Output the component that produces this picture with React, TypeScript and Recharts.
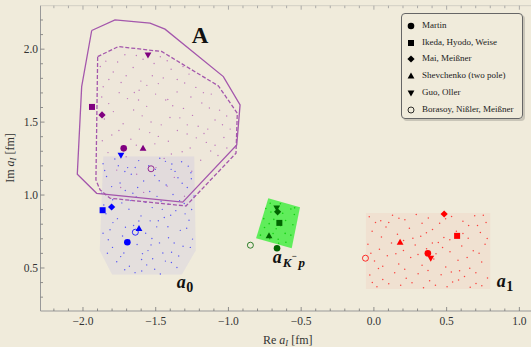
import React from "react";
import { ScatterChart, Scatter, XAxis, YAxis } from "recharts";

type Pt = [number, number];

const xTicks = [
  -2.2, -2.1, -2.0, -1.9, -1.8, -1.7, -1.6, -1.5, -1.4, -1.3, -1.2, -1.1, -1.0, -0.9, -0.8, -0.7,
  -0.6, -0.5, -0.4, -0.3, -0.2, -0.1, 0.0, 0.1, 0.2, 0.3, 0.4, 0.5, 0.6, 0.7, 0.8, 0.9, 1.0,
];
const xTickLabels = [-2.0, -1.5, -1.0, -0.5, 0.0, 0.5, 1.0];
const yTicks = [
  0.3, 0.4, 0.5, 0.6, 0.7, 0.8, 0.9, 1.0, 1.1, 1.2, 1.3, 1.4, 1.5, 1.6, 1.7, 1.8, 1.9, 2.0, 2.1, 2.2,
];
const yTickLabels = [0.5, 1.0, 1.5, 2.0];

// marker values, in order: A, a0, aK-p, a1
const authorNames = [
  "Martin",
  "Ikeda, Hyodo, Weise",
  "Mai, Meißner",
  "Shevchenko (two pole)",
  "Guo, Oller",
  "Borasoy, Nißler, Meißner",
];
const martin: Pt[] = [[-1.72, 1.32], [-1.695, 0.676], [-0.666, 0.635], [0.371, 0.601]];
const ikeda: Pt[] = [[-1.938, 1.604], [-1.865, 0.896], [-0.65, 0.809], [0.572, 0.72]];
const mai: Pt[] = [[-1.869, 1.549], [-1.803, 0.918], [-0.662, 0.885], [0.483, 0.87]];
const shevchenko: Pt[] = [[-1.587, 1.32], [-1.615, 0.77], [-0.721, 0.72], [0.18, 0.676]];
const guo: Pt[] = [[-1.553, 1.96], [-1.739, 1.273], [-0.668, 0.912], [0.391, 0.567]];
const borasoy: Pt[] = [[-1.532, 1.18], [-1.64, 0.745], [-0.849, 0.656], [-0.058, 0.567]];
const groups = ["A", "a0", "aKp", "a1"];

const solidHull: Pt[] = [
  [-1.94, 2.128], [-1.78, 2.201], [-1.539, 2.178], [-1.436, 2.137], [-1.035, 1.812], [-0.92, 1.618],
  [-0.943, 1.344], [-1.314, 0.951], [-1.906, 1.012], [-2.039, 1.143], [-2.009, 1.743], [-1.94, 2.128],
];
const dashedHull: Pt[] = [
  [-1.899, 1.949], [-1.757, 2.018], [-1.459, 1.984], [-1.069, 1.748], [-0.939, 1.561], [-0.948, 1.287],
  [-1.292, 0.925], [-1.814, 0.978], [-1.883, 1.036], [-1.911, 1.104], [-1.899, 1.949],
];

const a0Region: Pt[] = [
  [-1.86, 1.265], [-1.235, 1.265], [-1.225, 0.62], [-1.32, 0.455], [-1.8, 0.455], [-1.885, 0.62], [-1.86, 1.265],
];
const a1Region: Pt[] = [[-0.055, 0.876], [0.8, 0.876], [0.8, 0.356], [-0.055, 0.356], [-0.055, 0.876]];
const aKpRegion: Pt[] = [[-0.726, 0.978], [-0.508, 0.916], [-0.565, 0.635], [-0.81, 0.704], [-0.726, 0.978]];

const purpleCloud: Pt[] = [
  [-1.843, 1.918], [-1.712, 1.962], [-1.587, 1.931], [-1.468, 1.948], [-1.792, 1.843], [-1.655, 1.874],
  [-1.523, 1.818], [-1.394, 1.862], [-1.271, 1.829], [-1.602, 1.781], [-1.861, 1.742], [-1.738, 1.771],
  [-1.614, 1.718], [-1.482, 1.764], [-1.353, 1.707], [-1.224, 1.738], [-1.118, 1.692], [-1.417, 1.655],
  [-1.823, 1.627], [-1.694, 1.661], [-1.562, 1.608], [-1.431, 1.652], [-1.309, 1.594], [-1.183, 1.631],
  [-1.061, 1.582], [-1.247, 1.546], [-1.853, 1.521], [-1.724, 1.489], [-1.593, 1.543], [-1.462, 1.481],
  [-1.334, 1.529], [-1.208, 1.472], [-1.092, 1.514], [-0.988, 1.452], [-1.802, 1.412], [-1.671, 1.383],
  [-1.541, 1.428], [-1.413, 1.369], [-1.284, 1.418], [-1.152, 1.361], [-1.031, 1.394], [-1.506, 1.351],
  [-1.828, 1.291], [-1.703, 1.262], [-1.574, 1.308], [-1.442, 1.251], [-1.318, 1.297], [-1.191, 1.238],
  [-1.072, 1.271], [-1.768, 1.171], [-1.631, 1.142], [-1.498, 1.188], [-1.372, 1.121], [-1.252, 1.163],
  [-1.124, 1.104], [-1.741, 1.052], [-1.583, 1.018], [-1.421, 1.061], [-1.302, 0.992], [-1.647, 1.703],
  [-1.352, 1.792], [-1.168, 1.422], [-1.881, 1.881], [-1.762, 1.912], [-1.633, 1.957], [-1.511, 1.902],
  [-1.421, 1.921], [-1.312, 1.881], [-1.822, 1.792], [-1.703, 1.818], [-1.561, 1.752], [-1.448, 1.803],
  [-1.301, 1.768], [-1.172, 1.702], [-1.871, 1.672], [-1.751, 1.702], [-1.618, 1.652], [-1.501, 1.692],
  [-1.383, 1.612], [-1.258, 1.672], [-1.131, 1.597], [-1.012, 1.542], [-1.791, 1.572], [-1.652, 1.583],
  [-1.532, 1.501], [-1.402, 1.532], [-1.283, 1.481], [-1.142, 1.452], [-1.041, 1.482], [-1.753, 1.442],
  [-1.612, 1.452], [-1.482, 1.402], [-1.351, 1.442], [-1.221, 1.392], [-1.092, 1.341], [-1.867, 1.372],
  [-1.633, 1.342], [-1.392, 1.281], [-1.263, 1.322], [-1.122, 1.302], [-1.011, 1.322],
];
const blueCloud: Pt[] = [
  [-1.862, 1.214], [-1.781, 1.247], [-1.693, 1.188], [-1.617, 1.236], [-1.548, 1.201], [-1.472, 1.252],
  [-1.394, 1.176], [-1.322, 1.228], [-1.258, 1.153], [-1.838, 1.127], [-1.745, 1.083], [-1.668, 1.142],
  [-1.583, 1.096], [-1.507, 1.134], [-1.428, 1.069], [-1.347, 1.118], [-1.283, 1.052], [-1.712, 1.161],
  [-1.871, 1.013], [-1.796, 0.968], [-1.709, 1.031], [-1.634, 0.987], [-1.541, 1.024], [-1.463, 0.958],
  [-1.381, 1.004], [-1.304, 0.942], [-1.236, 0.993], [-1.842, 0.872], [-1.763, 0.838], [-1.684, 0.903],
  [-1.601, 0.857], [-1.524, 0.914], [-1.441, 0.846], [-1.362, 0.893], [-1.271, 0.827], [-1.572, 0.951],
  [-1.814, 0.762], [-1.728, 0.719], [-1.652, 0.791], [-1.569, 0.738], [-1.493, 0.782], [-1.412, 0.707],
  [-1.331, 0.758], [-1.247, 0.698], [-1.455, 0.902], [-1.797, 0.641], [-1.719, 0.603], [-1.628, 0.661],
  [-1.553, 0.619], [-1.474, 0.672], [-1.391, 0.608], [-1.312, 0.649], [-1.521, 0.563], [-1.768, 0.543],
  [-1.681, 0.512], [-1.597, 0.558], [-1.507, 0.491], [-1.433, 0.547], [-1.354, 0.503], [-1.642, 0.468],
  [-1.468, 0.459], [-1.733, 0.946], [-1.389, 1.213], [-1.616, 0.822], [-1.298, 0.871], [-1.826, 0.693],
  [-1.416, 0.783], [-1.851, 1.168], [-1.757, 1.201], [-1.641, 1.189], [-1.502, 1.176], [-1.433, 1.231],
  [-1.276, 1.198], [-1.803, 1.058], [-1.624, 1.052], [-1.476, 1.098], [-1.318, 1.081], [-1.255, 1.112],
  [-1.857, 0.932], [-1.675, 0.962], [-1.491, 0.991], [-1.412, 0.938], [-1.336, 0.962], [-1.253, 0.901],
  [-1.794, 0.811], [-1.708, 0.779], [-1.538, 0.823], [-1.397, 0.861], [-1.287, 0.772], [-1.862, 0.738],
  [-1.683, 0.692], [-1.526, 0.702], [-1.373, 0.671], [-1.262, 0.641], [-1.741, 0.578], [-1.591, 0.598],
  [-1.451, 0.603], [-1.342, 0.582], [-1.713, 0.488], [-1.562, 0.521], [-1.392, 0.538], [-1.596, 0.479],
  [-1.832, 0.601], [-1.482, 0.824], [-1.657, 1.012], [-1.367, 1.162], [-1.532, 0.658],
];
const greenCloud: Pt[] = [
  [-0.713, 0.944], [-0.643, 0.94], [-0.571, 0.904], [-0.547, 0.867], [-0.708, 0.883], [-0.627, 0.875],
  [-0.757, 0.838], [-0.688, 0.833], [-0.607, 0.825], [-0.557, 0.796], [-0.752, 0.777], [-0.672, 0.769],
  [-0.61, 0.737], [-0.78, 0.725], [-0.716, 0.701], [-0.658, 0.697], [-0.605, 0.676], [-0.673, 0.918],
  [-0.641, 0.79], [-0.72, 0.804], [-0.545, 0.912], [-0.693, 0.736], [-0.743, 0.908], [-0.571, 0.725],
  [-0.655, 0.669],
];
const redCloud: Pt[] = [
  [-0.032, 0.851], [0.047, 0.823], [0.128, 0.862], [0.213, 0.831], [0.291, 0.867], [0.374, 0.842],
  [0.452, 0.806], [0.534, 0.853], [0.612, 0.821], [0.693, 0.858], [0.771, 0.812], [-0.012, 0.752],
  [0.083, 0.781], [0.162, 0.731], [0.244, 0.772], [0.322, 0.718], [0.403, 0.763], [0.481, 0.709],
  [0.567, 0.752], [0.648, 0.703], [0.732, 0.744], [-0.041, 0.662], [0.038, 0.628], [0.121, 0.671],
  [0.203, 0.619], [0.284, 0.658], [0.362, 0.632], [0.443, 0.674], [0.523, 0.612], [0.604, 0.651],
  [0.683, 0.618], [0.764, 0.663], [0.004, 0.548], [0.092, 0.583], [0.171, 0.527], [0.253, 0.571],
  [0.331, 0.518], [0.412, 0.562], [0.494, 0.507], [0.578, 0.553], [0.659, 0.498], [0.741, 0.541],
  [-0.028, 0.452], [0.061, 0.421], [0.143, 0.468], [0.222, 0.429], [0.304, 0.461], [0.383, 0.412],
  [0.462, 0.453], [0.541, 0.404], [0.623, 0.442], [0.702, 0.393], [0.781, 0.432], [0.021, 0.372],
  [0.184, 0.381], [0.341, 0.364], [0.503, 0.372], [0.662, 0.368], [0.102, 0.812], [0.268, 0.703],
  [0.427, 0.598], [0.589, 0.481], [0.712, 0.792], [0.031, 0.497], [0.011, 0.812], [0.172, 0.841],
  [0.331, 0.806], [0.493, 0.838], [0.651, 0.791], [0.752, 0.861], [0.052, 0.712], [0.204, 0.688],
  [0.361, 0.741], [0.522, 0.693], [0.612, 0.736], [0.779, 0.702], [-0.021, 0.601], [0.151, 0.598],
  [0.303, 0.592], [0.472, 0.641], [0.641, 0.572], [0.723, 0.601], [0.061, 0.512], [0.212, 0.492],
  [0.372, 0.483], [0.532, 0.472], [0.701, 0.468], [-0.011, 0.401], [0.102, 0.392], [0.262, 0.398],
  [0.423, 0.381], [0.582, 0.418], [0.742, 0.378], [0.402, 0.672],
];

const textLabels = [
  { id: "A", x: -1.195, y: 2.043 },
  { id: "a0", x: -1.356, y: 0.361 },
  { id: "aKp", x: -0.695, y: 0.536 },
  { id: "a1", x: 0.845, y: 0.368 },
];

const SERIF = '"Liberation Serif", "Times New Roman", "DejaVu Serif", serif';
const BG = "#f0ebdb";
const groupColor: Record<string, string> = {
  A: "#800080",
  a0: "#0000ff",
  aKp: "#006400",
  a1: "#ff0000",
};
const markerKinds = ["circle", "square", "diamond", "up", "down", "open"];
const authorData = [martin, ikeda, mai, shevchenko, guo, borasoy];

const toXY = (pts: Pt[]) => pts.map(([x, y]) => ({ x, y }));
const near = (list: number[], v: number) => list.some((t) => Math.abs(t - v) < 1e-6);
const fmt = (v: number) => v.toFixed(1).replace("-", "\u2212");

function Marker({ cx, cy, kind, color }: { cx: number; cy: number; kind: string; color: string }) {
  switch (kind) {
    case "circle":
      return <circle cx={cx} cy={cy} r={3.3} fill={color} />;
    case "square":
      return <rect x={cx - 3} y={cy - 3} width={6} height={6} fill={color} />;
    case "diamond":
      return (
        <polygon
          points={`${cx},${cy - 3.6} ${cx + 3.6},${cy} ${cx},${cy + 3.6} ${cx - 3.6},${cy}`}
          fill={color}
        />
      );
    case "up":
      return (
        <polygon points={`${cx},${cy - 3.6} ${cx + 3.4},${cy + 2.4} ${cx - 3.4},${cy + 2.4}`} fill={color} />
      );
    case "down":
      return (
        <polygon points={`${cx},${cy + 3.6} ${cx + 3.4},${cy - 2.4} ${cx - 3.4},${cy - 2.4}`} fill={color} />
      );
    default:
      return <circle cx={cx} cy={cy} r={3} fill="none" stroke={color} strokeWidth={0.8} />;
  }
}

const noShape = () => <g />;
const dotShape = (fill: string, r: number, op: number) => (p: any) =>
  <circle cx={p.cx} cy={p.cy} r={r} fill={fill} fillOpacity={op} />;

function BottomTick(props: any) {
  const { x, y, payload } = props;
  const major = near(xTickLabels, payload.value);
  return (
    <g>
      <line x1={x} x2={x} y1={y} y2={y - (major ? 4 : 2.5)} stroke="#777" strokeWidth={0.8} />
      {major && (
        <text x={x} y={y + 14} textAnchor="middle" fontSize={11.5} fontFamily={SERIF} fill="#333">
          {fmt(payload.value)}
        </text>
      )}
    </g>
  );
}

function TopTick(props: any) {
  const { x, y, payload } = props;
  const major = near(xTickLabels, payload.value);
  return <line x1={x} x2={x} y1={y} y2={y + (major ? 4 : 2.5)} stroke="#999" strokeWidth={0.8} />;
}

function LeftTick(props: any) {
  const { x, y, payload } = props;
  const major = near(yTickLabels, payload.value);
  return (
    <g>
      <line x1={x} x2={x + (major ? 4 : 2.5)} y1={y} y2={y} stroke="#777" strokeWidth={0.8} />
      {major && (
        <text x={x - 2.5} y={y + 4} textAnchor="end" fontSize={11.5} fontFamily={SERIF} fill="#333">
          {fmt(payload.value)}
        </text>
      )}
    </g>
  );
}

function LabelShape(p: any) {
  const { cx, cy, payload } = p;
  const common = { fontFamily: SERIF, fontWeight: "bold" as const, fill: "#111" };
  if (payload.id === "A") {
    return (
      <text x={cx} y={cy} textAnchor="middle" fontSize={23} {...common}>
        A
      </text>
    );
  }
  if (payload.id === "aKp") {
    return (
      <text x={cx} y={cy} fontSize={18} {...common}>
        <tspan fontStyle="italic">a</tspan>
        <tspan fontSize={13} dy={4.3} dx={1} fontStyle="italic">K</tspan>
        <tspan fontSize={9} dy={-8}>{"\u2212"}</tspan>
        <tspan fontSize={13} dy={8} dx={2} fontStyle="italic">p</tspan>
      </text>
    );
  }
  return (
    <text x={cx} y={cy} fontSize={18} {...common}>
      <tspan fontStyle="italic">a</tspan>
      <tspan fontSize={14} dy={3.4} dx={0.5}>{payload.id === "a0" ? "0" : "1"}</tspan>
    </text>
  );
}

function XTitle(props: any) {
  const { viewBox } = props;
  const cx = viewBox.x + viewBox.width / 2 + 2;
  return (
    <text x={cx} y={344} textAnchor="middle" fontSize={12} fontFamily={SERIF} fill="#333">
      Re <tspan fontStyle="italic">a</tspan>
      <tspan fontSize={8.5} dy={2} fontStyle="italic">I</tspan>
      <tspan dy={-2}> [fm]</tspan>
    </text>
  );
}

function YTitle() {
  return (
    <text
      x={14}
      y={158}
      transform="rotate(-90, 14, 158)"
      textAnchor="middle"
      fontSize={12}
      fontFamily={SERIF}
      fill="#333"
    >
      Im <tspan fontStyle="italic">a</tspan>
      <tspan fontSize={8.5} dy={2} fontStyle="italic">I</tspan>
      <tspan dy={-2}> [fm]</tspan>
    </text>
  );
}

export default function App() {
  const markerSeries = authorData.map((pts, i) =>
    pts.map(([x, y], g) => ({ x, y, group: groups[g], kind: markerKinds[i] }))
  );
  return (
    <div style={{ position: "absolute", left: 0, top: 0, width: 531, height: 347, background: BG }}>
      <ScatterChart width={531} height={347} margin={{ top: 4.7, right: 0, bottom: 35, left: 39.5 }}>
        <XAxis
          dataKey="x"
          type="number"
          domain={[-2.292, 1.08]}
          allowDataOverflow
          ticks={xTicks}
          interval={0}
          height={1}
          tickSize={0}
          tickMargin={0}
          tickLine={false}
          tick={<BottomTick />}
          axisLine={{ stroke: "#999" }}
          label={<XTitle />}
        />
        <XAxis
          xAxisId="top"
          orientation="top"
          dataKey="x"
          type="number"
          domain={[-2.292, 1.08]}
          allowDataOverflow
          ticks={xTicks}
          interval={0}
          height={1}
          tickSize={0}
          tickMargin={0}
          tickLine={false}
          tick={<TopTick />}
          axisLine={{ stroke: "#d2cfc4" }}
        />
        <YAxis
          dataKey="y"
          type="number"
          domain={[0.205, 2.298]}
          allowDataOverflow
          ticks={yTicks}
          interval={0}
          width={1}
          tickSize={0}
          tickMargin={0}
          tickLine={false}
          tick={<LeftTick />}
          axisLine={{ stroke: "#999" }}
        />

        {/* shaded regions */}
        <Scatter data={toXY(dashedHull)} shape={noShape} line={{ stroke: "none", fill: "#b040c0", fillOpacity: 0.025 }} isAnimationActive={false} />
        <Scatter data={toXY(a0Region)} shape={noShape} line={{ stroke: "none", fill: "#4040ff", fillOpacity: 0.07 }} isAnimationActive={false} />
        <Scatter data={toXY(a1Region)} shape={noShape} line={{ stroke: "none", fill: "#ff2020", fillOpacity: 0.05 }} isAnimationActive={false} />
        <Scatter data={toXY(aKpRegion)} shape={noShape} line={{ stroke: "none", fill: "#30ee30", fillOpacity: 0.75 }} isAnimationActive={false} />

        {/* sample clouds */}
        <Scatter data={toXY(purpleCloud)} shape={dotShape("#a030a8", 0.7, 0.6)} isAnimationActive={false} />
        <Scatter data={toXY(blueCloud)} shape={dotShape("#2020ff", 0.7, 0.7)} isAnimationActive={false} />
        <Scatter data={toXY(greenCloud)} shape={dotShape("#00c800", 0.8, 0.8)} isAnimationActive={false} />
        <Scatter data={toXY(redCloud)} shape={dotShape("#ff0000", 0.75, 0.7)} isAnimationActive={false} />

        {/* region A boundaries */}
        <Scatter data={toXY(solidHull)} shape={noShape} line={{ stroke: "#a457ac", strokeWidth: 1.3, fill: "none" }} isAnimationActive={false} />
        <Scatter data={toXY(dashedHull)} shape={noShape} line={{ stroke: "#a457ac", strokeWidth: 1.3, strokeDasharray: "4 2", fill: "none" }} isAnimationActive={false} />

        {/* model markers */}
        {markerSeries.map((data, i) => (
          <Scatter
            key={authorNames[i]}
            name={authorNames[i]}
            data={data}
            isAnimationActive={false}
            shape={(p: any) => (
              <Marker cx={p.cx} cy={p.cy} kind={p.payload.kind} color={groupColor[p.payload.group]} />
            )}
          />
        ))}

        <Scatter data={textLabels} shape={LabelShape} isAnimationActive={false} />
      </ScatterChart>

      <svg style={{ position: "absolute", left: 0, top: 0, pointerEvents: "none" }} width={40} height={347}>
        <YTitle />
      </svg>

      <div
        style={{
          position: "absolute",
          left: 400.5,
          top: 13,
          width: 122.5,
          height: 106,
          border: "1px solid #666",
          borderRadius: 4,
          boxShadow: "2px 2px 0 #c9c5b8",
          boxSizing: "border-box",
          fontFamily: SERIF,
          fontSize: 9,
          color: "#222",
        }}
      >
        {authorNames.map((name, i) => (
          <div key={name}>
            <svg style={{ position: "absolute", left: 4.5, top: 7 + i * 16.7 }} width={10} height={10}>
              <Marker cx={5} cy={5} kind={markerKinds[i]} color="#000" />
            </svg>
            <span
              style={{
                position: "absolute",
                left: 20.5,
                top: 6 + i * 16.7,
                lineHeight: "10px",
                whiteSpace: "nowrap",
              }}
            >
              {name}
            </span>
          </div>
        ))}
      </div>
    </div>
  );
}
